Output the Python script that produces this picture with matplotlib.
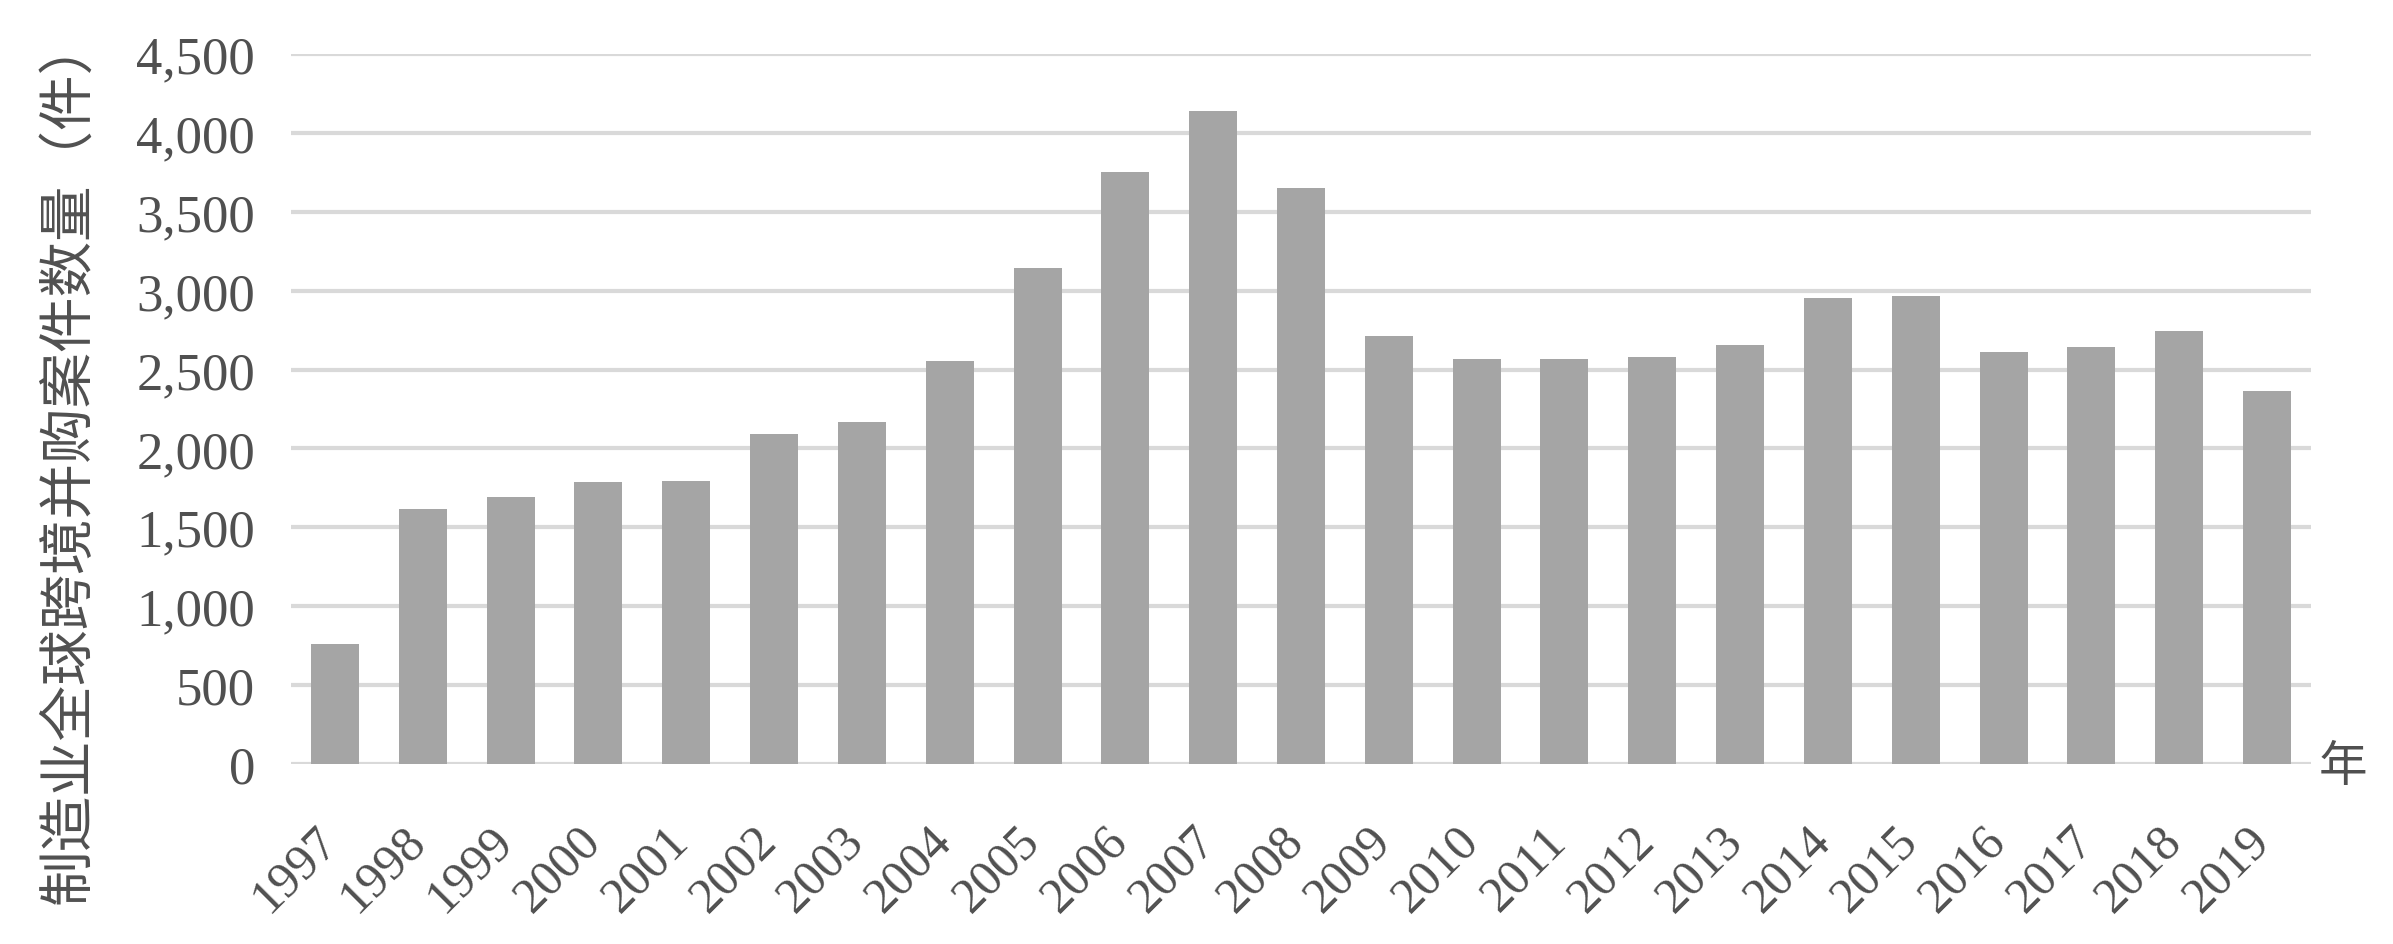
import matplotlib
matplotlib.use("Agg")
import matplotlib.pyplot as plt
from matplotlib.ticker import FuncFormatter
from matplotlib.transforms import ScaledTranslation

years = ["1997", "1998", "1999", "2000", "2001", "2002", "2003", "2004", "2005", "2006", "2007", "2008",
         "2009", "2010", "2011", "2012", "2013", "2014", "2015", "2016", "2017", "2018", "2019"]
deals = [761, 1618, 1694, 1788, 1796, 2093, 2170, 2554, 3146, 3754, 4139, 3652,
         2713, 2569, 2569, 2580, 2657, 2955, 2967, 2611, 2645, 2744, 2364]
yticks = [0, 500, 1000, 1500, 2000, 2500, 3000, 3500, 4000, 4500]
ylabel = "制造业全球跨境并购案件数量（件）"
xunit = "年"

text_color = "#505050"
cjk = ["Noto Sans CJK SC", "DejaVu Sans"]
serif = ["Liberation Serif", "DejaVu Serif"]

fig = plt.figure(figsize=(23.93, 9.45), dpi=100)
ax = fig.add_axes([291 / 2393, 1 - 765 / 945, (2311 - 291) / 2393, (765 - 55) / 945])

x = list(range(len(years)))
ax.bar(x, deals, width=0.547, color="#a5a5a5", zorder=3)

ax.set_xlim(-0.5, len(years) - 0.5)
ax.set_ylim(0, 4500)
ax.set_yticks(yticks)
ax.yaxis.set_major_formatter(FuncFormatter(lambda v, p: f"{int(v):,}"))
ax.grid(axis="y", color="#d9d9d9", linewidth=3.0, zorder=0)
ax.set_axisbelow(True)
for s in ax.spines.values():
    s.set_visible(False)

ax.tick_params(axis="both", length=0)
ax.tick_params(axis="y", pad=26)
for lab in ax.get_yticklabels():
    lab.set_fontfamily(serif)
    lab.set_fontsize(38)
    lab.set_color(text_color)

ax.set_xticks(x)
ax.set_xticklabels(years, rotation=45, ha="right", va="center", rotation_mode="anchor",
                   fontfamily=serif, fontsize=36, color=text_color)
ax.tick_params(axis="x", pad=50)
offset = ScaledTranslation(-5 / 100, 0, fig.dpi_scale_trans)
for lab in ax.get_xticklabels():
    lab.set_transform(lab.get_transform() + offset)

fig.text(69 / 2393, 1 - 460 / 945, ylabel, rotation=90, ha="center", va="center",
         fontsize=40, family=cjk, color=text_color)
fig.text(2343 / 2393, 1 - 767 / 945, xunit, ha="center", va="center",
         fontsize=35, family=cjk, color=text_color)

fig.savefig("out.png", dpi=100)
